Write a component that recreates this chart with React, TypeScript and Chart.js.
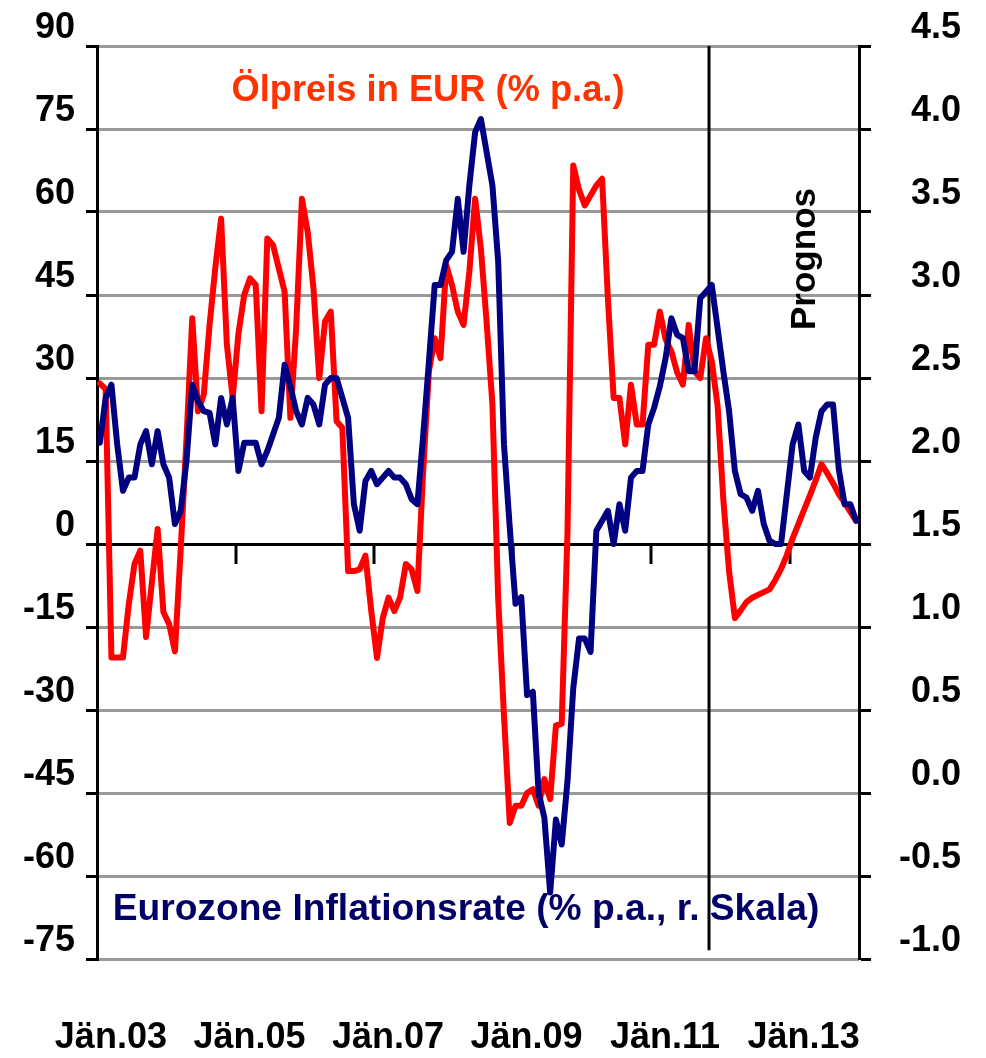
import React, { useEffect, useRef } from 'react';
import { Chart, registerables } from 'chart.js';

Chart.register(...registerables);

// ---------- data ----------
const MONTHS = ['Jän', 'Feb', 'Mär', 'Apr', 'Mai', 'Jun', 'Jul', 'Aug', 'Sep', 'Okt', 'Nov', 'Dez'];
const YEARS = ['03', '04', '05', '06', '07', '08', '09', '10', '11', '12', '13'];
const categories: string[] = YEARS.flatMap((y) => MONTHS.map((m) => `${m}.${y}`));

// Ölpreis in EUR (% p.a.), left scale
const oilPrice = [
  29, 28, -20.5, -20.5, -20.5, -10.9, -3.6, -1.2, -16.8, -7, 2.7, -12.3,
  -14.5, -19.4, -1, 19, 40.8, 24, 27, 39.6, 50, 58.8, 36, 26.4,
  38, 45, 48, 46.8, 24, 55.2, 54, 49.8, 45.6, 22.8, 39, 62.4,
  56.4, 46.2, 30, 40.2, 42, 22.2, 21, -4.9, -4.9, -4.6, -2.1, -12,
  -20.6, -13.4, -9.7, -12.1, -9.7, -3.6, -4.6, -8.5, 13.2, 31.2, 37.2, 33.6,
  50.4, 46.8, 42, 39.6, 49.2, 62.4, 53.4, 40, 25.2, -10, -31, -50.4,
  -47.3, -47.3, -45, -44.3, -47.3, -42.5, -46.1, -32.8, -32.5, 2, 68.4, 64,
  61.2, 63, 64.8, 66, 44.4, 26.4, 26.4, 18, 28.8, 21.6, 21.6, 36,
  36, 42, 37, 34.8, 31, 28.8, 39.6, 31.2, 30, 37.2, 33, 25,
  8, -5, -13.4, -12, -10.5, -9.7, -9.2, -8.7, -8.2, -6.5, -4.5, -2,
  1, 3.6, 6.2, 8.8, 11.5, 14.4, 12.8, 11, 9, 7.5, 5.8, 4.2,
];

// Eurozone Inflationsrate (% p.a.), right scale
const inflation = [
  2.11, 2.38, 2.46, 2.1, 1.82, 1.9, 1.9, 2.1, 2.18, 1.98, 2.18, 1.98,
  1.9, 1.62, 1.7, 2.0, 2.46, 2.36, 2.3, 2.29, 2.1, 2.38, 2.22, 2.38,
  1.94, 2.11, 2.11, 2.11, 1.98, 2.06, 2.16, 2.26, 2.58, 2.45, 2.3, 2.22,
  2.38, 2.34, 2.22, 2.46, 2.5, 2.5, 2.38, 2.26, 1.74, 1.58, 1.88, 1.94,
  1.86, 1.9, 1.94, 1.9, 1.9, 1.86, 1.77, 1.74, 2.15, 2.6, 3.06, 3.06,
  3.21, 3.26, 3.58, 3.26, 3.66, 3.98, 4.06, 3.86, 3.66, 3.2, 2.1, 1.6,
  1.14, 1.18, 0.59, 0.61, 0.0, -0.15, -0.6, -0.16, -0.31, 0.07, 0.63, 0.93,
  0.93, 0.85, 1.58, 1.64, 1.7, 1.5, 1.74, 1.58, 1.9, 1.94, 1.94, 2.22,
  2.32, 2.45, 2.62, 2.86, 2.76, 2.74, 2.54, 2.54, 2.98, 3.02, 3.06, 2.8,
  2.54, 2.3, 1.94, 1.8, 1.78, 1.7, 1.82, 1.62, 1.52, 1.5, 1.5, 1.8,
  2.1, 2.22, 1.94, 1.9, 2.14, 2.3, 2.34, 2.34, 1.95, 1.74, 1.74, 1.64,
];

const leftTicks = [-75, -60, -45, -30, -15, 0, 15, 30, 45, 60, 75, 90];
const rightTicks = [-1.0, -0.5, 0.0, 0.5, 1.0, 1.5, 2.0, 2.5, 3.0, 3.5, 4.0, 4.5];
const rightTickLabels = ['-1.0', '-0.5', '0.0', '0.5', '1.0', '1.5', '2.0', '2.5', '3.0', '3.5', '4.0', '4.5'];
const X_LABEL_EVERY = 24;
const FORECAST_START = 106;

const TITLE_OIL = 'Ölpreis in EUR (% p.a.)';
const TITLE_CPI = 'Eurozone Inflationsrate (% p.a., r. Skala)';
const TITLE_FORECAST = 'Prognos';

// ---------- styling ----------
const FAMILY = '"Liberation Sans", Arial, sans-serif';
const RED = '#FF0000';
const NAVY = '#000080';
const GRID = '#999999';

function fitFont(ctx: CanvasRenderingContext2D, text: string, width: number) {
  ctx.font = `bold 36px ${FAMILY}`;
  const w = ctx.measureText(text).width;
  const size = (36 * width) / w;
  ctx.font = `bold ${size}px ${FAMILY}`;
}

const decorPlugin = {
  id: 'decor',
  beforeDatasetsDraw(chart: any) {
    const { ctx, chartArea, scales } = chart;
    const x = scales.x;
    const yL = scales.yL;
    const half = (x.getPixelForValue(1) - x.getPixelForValue(0)) / 2;
    const y0 = yL.getPixelForValue(0);
    ctx.save();
    ctx.strokeStyle = '#000';
    ctx.lineWidth = 3;
    for (let k = X_LABEL_EVERY; k < categories.length; k += X_LABEL_EVERY) {
      const px = Math.round(x.getPixelForValue(k) - half);
      ctx.beginPath();
      ctx.moveTo(px, y0);
      ctx.lineTo(px, y0 + 20);
      ctx.stroke();
    }
    const fx = Math.round(x.getPixelForValue(FORECAST_START) - half);
    ctx.beginPath();
    ctx.moveTo(fx, chartArea.top);
    ctx.lineTo(fx, yL.getPixelForValue(-73.4));
    ctx.stroke();
    ctx.restore();
  },
  afterDatasetsDraw(chart: any) {
    const { ctx } = chart;
    ctx.save();
    ctx.textBaseline = 'alphabetic';
    ctx.textAlign = 'center';

    ctx.fillStyle = '#FF3300';
    fitFont(ctx, TITLE_OIL, 393);
    ctx.fillText(TITLE_OIL, 428, 101);

    ctx.fillStyle = '#000066';
    fitFont(ctx, TITLE_CPI, 707);
    ctx.fillText(TITLE_CPI, 466, 920);

    ctx.fillStyle = '#000';
    ctx.translate(815, 259);
    ctx.rotate(-Math.PI / 2);
    fitFont(ctx, TITLE_FORECAST, 142);
    ctx.fillText(TITLE_FORECAST, 0, 0);
    ctx.restore();
  },
};

const tickFont = { family: FAMILY, size: 36, weight: 'bold' as const };

export default function App() {
  const canvasRef = useRef<HTMLCanvasElement | null>(null);

  useEffect(() => {
    if (!canvasRef.current) return;
    const chart = new Chart(canvasRef.current, {
      type: 'line',
      data: {
        labels: categories,
        datasets: [
          {
            label: TITLE_CPI,
            data: inflation,
            yAxisID: 'yR',
            borderColor: NAVY,
            borderWidth: 6,
            pointRadius: 0,
            tension: 0,
            borderJoinStyle: 'round',
            borderCapStyle: 'round',
          },
          {
            label: TITLE_OIL,
            data: oilPrice,
            yAxisID: 'yL',
            borderColor: RED,
            borderWidth: 6,
            pointRadius: 0,
            tension: 0,
            borderJoinStyle: 'round',
            borderCapStyle: 'round',
          },
        ],
      },
      options: {
        responsive: false,
        animation: false,
        events: [],
        layout: { padding: { top: 46, right: 25, left: 0, bottom: 0 } },
        plugins: { legend: { display: false }, tooltip: { enabled: false }, title: { display: false } },
        scales: {
          x: {
            type: 'category',
            offset: true,
            grid: { display: false, drawTicks: false },
            border: { display: false },
            ticks: {
              autoSkip: false,
              maxRotation: 0,
              minRotation: 0,
              color: '#000',
              font: tickFont,
              padding: 57,
              labelOffset: 11,
              callback: (_v: any, i: number) => (i % X_LABEL_EVERY === 0 ? categories[i] : ''),
            },
            afterFit: (s: any) => {
              s.height = 99;
              s.paddingLeft = 0;
              s.paddingRight = 0;
              s.paddingTop = 0;
              s.paddingBottom = 0;
            },
          },
          yL: {
            type: 'linear',
            position: 'left',
            min: -75,
            max: 90,
            afterBuildTicks: (s: any) => {
              s.ticks = leftTicks.map((v) => ({ value: v }));
            },
            grid: {
              color: (c: any) => (c.tick && c.tick.value === 0 ? '#000' : GRID),
              lineWidth: 3,
              tickColor: '#000',
              tickWidth: 3,
              tickLength: 11,
              drawTicks: true,
            },
            border: { display: true, color: '#000', width: 3 },
            ticks: {
              color: '#000',
              font: tickFont,
              padding: 11,
              labelOffset: -18,
              callback: (v: any) => String(v),
            },
            afterFit: (s: any) => {
              s.width = 97;
              s.paddingTop = 0;
              s.paddingBottom = 0;
            },
          },
          yR: {
            type: 'linear',
            position: 'right',
            min: -1,
            max: 4.5,
            afterBuildTicks: (s: any) => {
              s.ticks = rightTicks.map((v) => ({ value: v }));
            },
            grid: {
              drawOnChartArea: false,
              tickColor: '#000',
              tickWidth: 3,
              tickLength: 12,
              drawTicks: true,
            },
            border: { display: true, color: '#000', width: 3 },
            ticks: {
              color: '#000',
              font: tickFont,
              crossAlign: 'far',
              labelOffset: -18,
              callback: (v: any) => {
                const idx = rightTicks.findIndex((t) => Math.abs(t - v) < 1e-9);
                return idx >= 0 ? rightTickLabels[idx] : '';
              },
            },
            afterFit: (s: any) => {
              s.width = 102;
              s.paddingTop = 0;
              s.paddingBottom = 0;
            },
          },
        },
      },
      plugins: [decorPlugin],
    } as any);
    return () => chart.destroy();
  }, []);

  return (
    <div style={{ position: 'absolute', left: 0, top: 0, width: 986, height: 1058, background: '#fff' }}>
      <canvas ref={canvasRef} width={986} height={1058} style={{ display: 'block' }} />
    </div>
  );
}
